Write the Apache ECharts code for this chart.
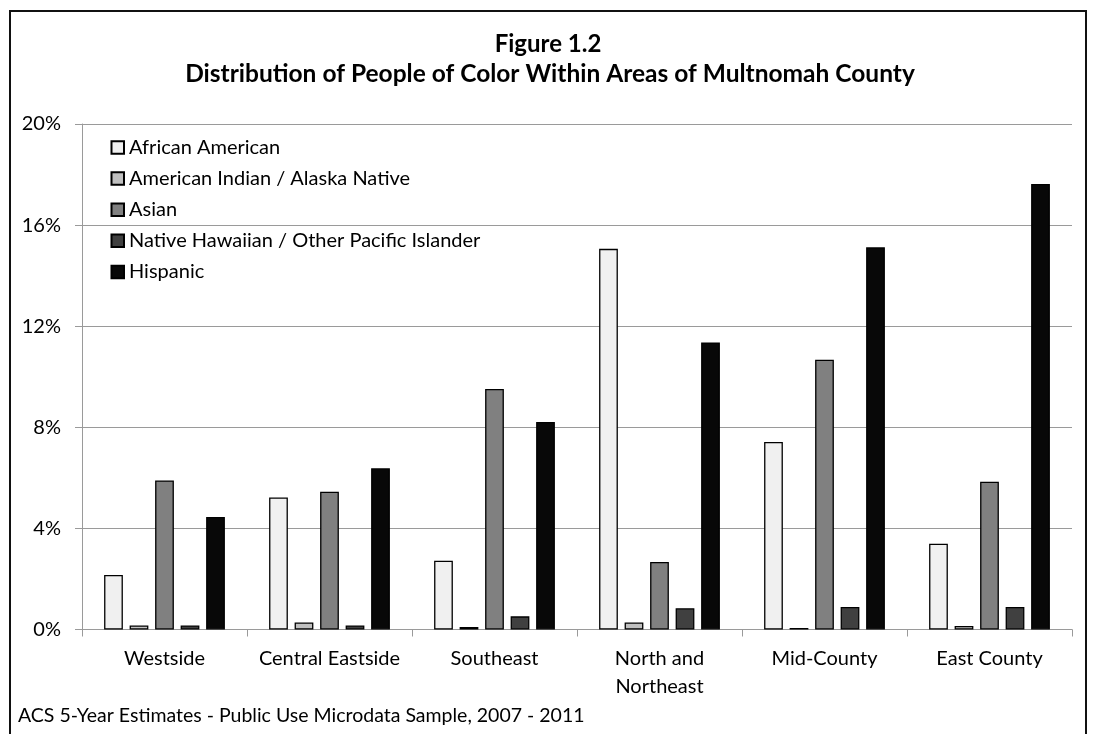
<!DOCTYPE html>
<html>
<head>
<meta charset="utf-8">
<script src="https://cdn.jsdelivr.net/npm/echarts@6/dist/echarts.min.js"></script>
<style>
html,body{margin:0;padding:0;background:#fff;}
#chart{width:1095px;height:734px;}
</style>
</head>
<body>
<div id="chart"></div>
<script>
const categories = ["Westside", "Central Eastside", "Southeast", "North and\nNortheast", "Mid-County", "East County"];
const seriesNames = ["African American", "American Indian / Alaska Native", "Asian", "Native Hawaiian / Other Pacific Islander", "Hispanic"];
const africanAmerican = [2.16, 5.22, 2.72, 15.06, 7.42, 3.39];
const americanIndian = [0.16, 0.28, 0.10, 0.28, 0.06, 0.14];
const asian = [5.90, 5.45, 9.52, 2.67, 10.67, 5.85];
const nativeHawaiian = [0.16, 0.16, 0.52, 0.84, 0.89, 0.89];
const hispanic = [4.45, 6.38, 8.21, 11.36, 15.12, 17.63];
const yTicks = [0, 4, 8, 12, 16, 20];
const fills = ["#f0f0f0", "#c0c0c0", "#808080", "#404040", "#080808"];
const titleLines = ["Figure 1.2", "Distribution of People of Color Within Areas of Multnomah County"];
const footnote = "ACS 5-Year Estimates - Public Use Microdata Sample, 2007 - 2011";

const FONT = "Lato";
const values = [africanAmerican, americanIndian, asian, nativeHawaiian, hispanic];

const chart = echarts.init(document.getElementById('chart'));
chart.setOption({
  animation: false,
  backgroundColor: '#fff',
  textStyle: { fontFamily: FONT },
  legend: {
    orient: 'vertical',
    left: 110.5,
    top: 137.5,
    padding: 0,
    itemWidth: 12.5,
    itemHeight: 12.5,
    itemGap: 11.1,
    icon: 'rect',
    data: seriesNames,
    textStyle: { fontFamily: FONT, fontSize: 20, lineHeight: 20, color: '#000' }
  },
  grid: { left: 82, right: 23, top: 124, bottom: 104.5 },
  xAxis: {
    type: 'category',
    data: categories,
    axisLine: { lineStyle: { color: '#9a9a9a', width: 1 } },
    axisTick: { show: true, interval: 0, length: 7, lineStyle: { color: '#9a9a9a' } },
    axisLabel: { interval: 0, hideOverlap: false, color: '#000', fontFamily: FONT, fontSize: 20, lineHeight: 28, margin: 15 }
  },
  yAxis: {
    type: 'value',
    min: 0,
    max: 20,
    interval: 4,
    axisLine: { show: true, lineStyle: { color: '#9a9a9a', width: 1 } },
    axisTick: { show: true, length: 7, lineStyle: { color: '#9a9a9a' } },
    splitLine: { lineStyle: { color: '#9a9a9a', width: 1 } },
    axisLabel: {
      color: '#000', fontFamily: FONT, fontSize: 20, margin: 21,
      formatter: function (v) { return yTicks.indexOf(v) >= 0 ? v + '%' : ''; }
    }
  },
  series: seriesNames.map(function (name, i) {
    return {
      name: name,
      type: 'bar',
      data: values[i],
      barGap: '36%',
      barCategoryGap: '26.8%',
      itemStyle: { color: fills[i], borderColor: '#000', borderWidth: 1.3 }
    };
  }),
  graphic: [
    {
      type: 'rect',
      shape: { x: 10, y: 11, width: 1076, height: 760 },
      style: { fill: 'none', stroke: '#111', lineWidth: 2 },
      silent: true
    },
    {
      type: 'text',
      x: 548, y: 44,
      style: { text: titleLines[0], fontFamily: FONT, fontWeight: 'bold', fontSize: 24, fill: '#000', align: 'center', verticalAlign: 'middle' }
    },
    {
      type: 'text',
      x: 550, y: 74,
      style: { text: titleLines[1], fontFamily: FONT, fontWeight: 'bold', fontSize: 24.5, fill: '#000', align: 'center', verticalAlign: 'middle' }
    },
    {
      type: 'text',
      x: 18, y: 716,
      style: { text: footnote, fontFamily: FONT, fontSize: 19.5, fill: '#000', align: 'left', verticalAlign: 'middle' }
    }
  ]
});
</script>
</body>
</html>
